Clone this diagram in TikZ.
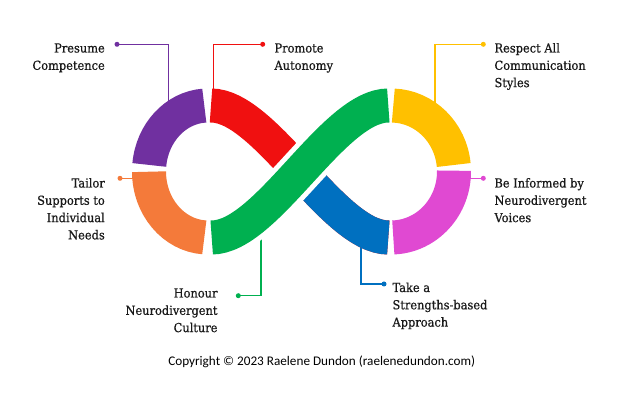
\documentclass[tikz,border=0pt]{standalone}
\usepackage{fontspec}
\setmainfont{DejaVu Serif}[FakeStretch=0.92,FakeBold=0.6]
\newfontfamily\copyfont{Carlito}
\definecolor{cpurple}{HTML}{7030A0}
\definecolor{cred}{HTML}{F01010}
\definecolor{corange}{HTML}{F47A3A}
\definecolor{cgreen}{HTML}{00B050}
\definecolor{cyellow}{HTML}{FFC000}
\definecolor{cpink}{HTML}{E049D2}
\definecolor{cblue}{HTML}{0070C0}
\begin{document}
\begin{tikzpicture}[x=1pt,y=1pt,
  band/.style={line width=34pt},
  leader/.style={line width=1.5pt},
  dotc/.style={circle, fill, inner sep=0pt, minimum size=5pt},
  lbl/.style={inner sep=0pt, text=black!90, font=\fontsize{12.4}{17.3}\selectfont}]
\useasboundingbox (0,0) rectangle (620,406);
\fill[white] (0,0) rectangle (620,406);

% ---- leader lines (drawn under the band)
\node[dotc, cpurple] (dpur) at (117,361.7) {};
\coordinate (epur) at (168.3,296);
\draw[leader, cpurple] (dpur.center) -| (epur);

\node[dotc, cred] (dred) at (262.7,361.7) {};
\coordinate (ered) at (213.3,296);
\draw[leader, cred] (dred.center) -| (ered);

\node[dotc, cyellow] (dyel) at (483.3,361.7) {};
\coordinate (eyel) at (435,295);
\draw[leader, cyellow] (dyel.center) -| (eyel);

\node[dotc, cpink] (dpink) at (483.3,227.7) {};
\coordinate (epink) at (460,227.7);
\draw[leader, cpink] (dpink.center) -- (epink);

\node[dotc, corange] (dor) at (120,227.7) {};
\coordinate (eor) at (145,227.7);
\draw[leader, corange] (dor.center) -- (eor);

\node[dotc, cgreen] (dgr) at (238.3,110.3) {};
\coordinate (egr) at (261,178);
\draw[leader, cgreen] (dgr.center) -| (egr);

\node[dotc, cblue] (dbl) at (384,122) {};
\coordinate (ebl) at (361,178);
\draw[leader, cblue] (dbl.center) -| (ebl);

% ---- left loop
\draw[band, cpurple, shift={(208,234.5)}] (93.6:59pt and 66pt)
  arc[start angle=93.6, end angle=174.3, x radius=59pt, y radius=66pt];
\draw[band, corange, shift={(208,234.5)}] (180.2:59pt and 66pt)
  arc[start angle=180.2, end angle=266.4, x radius=59pt, y radius=66pt];
% ---- right loop
\draw[band, cyellow, shift={(391,234.5)}] (87.9:63pt and 66pt)
  arc[start angle=87.9, end angle=5.65, x radius=63pt, y radius=66pt];
\draw[band, cpink, shift={(391,234.5)}] (0.7:63pt and 66pt)
  arc[start angle=0.7, end angle=-87.9, x radius=63pt, y radius=66pt];

% ---- red / blue crossing strand
\draw[band, cred] (211,300.5) .. controls (266,300.5) and (333,168.5) .. (388.3,168.5);
\begin{scope}
  \clip (300,0) rectangle (620,406);
  \draw[band, cblue] (211,300.5) .. controls (266,300.5) and (333,168.5) .. (388.3,168.5);
\end{scope}
% ---- green strand over the top
\draw[line width=44pt, white] (211.7,168.5) .. controls (267,168.5) and (333,300.5) .. (388.3,300.5);
\draw[band, cgreen] (211.7,168.5) .. controls (267,168.5) and (333,300.5) .. (388.3,300.5);

% ---- labels
\node[lbl, anchor=base east] (tpur) at (105,353.5)
  {\begin{tabular}[t]{@{}r@{}}Presume\\Competence\end{tabular}};
\node[lbl, anchor=base west] (tred) at (274.3,353.5)
  {\begin{tabular}[t]{@{}l@{}}Promote\\Autonomy\end{tabular}};
\node[lbl, anchor=base west] (tyel) at (494.3,353.5)
  {\begin{tabular}[t]{@{}l@{}}Respect All\\Communication\\Styles\end{tabular}};
\node[lbl, anchor=base west] (tpink) at (494.3,218.5)
  {\begin{tabular}[t]{@{}l@{}}Be Informed by\\Neurodivergent\\Voices\end{tabular}};
\node[lbl, anchor=base east] (tor) at (105,218.5)
  {\begin{tabular}[t]{@{}r@{}}Tailor\\Supports to\\Individual\\Needs\end{tabular}};
\node[lbl, anchor=base east] (tgr) at (217.7,108.5)
  {\begin{tabular}[t]{@{}r@{}}Honour\\Neurodivergent\\Culture\end{tabular}};
\node[lbl, anchor=base west] (tbl) at (392.3,114)
  {\begin{tabular}[t]{@{}l@{}}Take a\\Strengths-based\\Approach\end{tabular}};

\node[inner sep=0pt, anchor=base, font=\copyfont\fontsize{13.2}{15}\selectfont] (copy) at (321.7,40)
  {Copyright © 2023 Raelene Dundon (raelenedundon.com)};
\end{tikzpicture}
\end{document}
